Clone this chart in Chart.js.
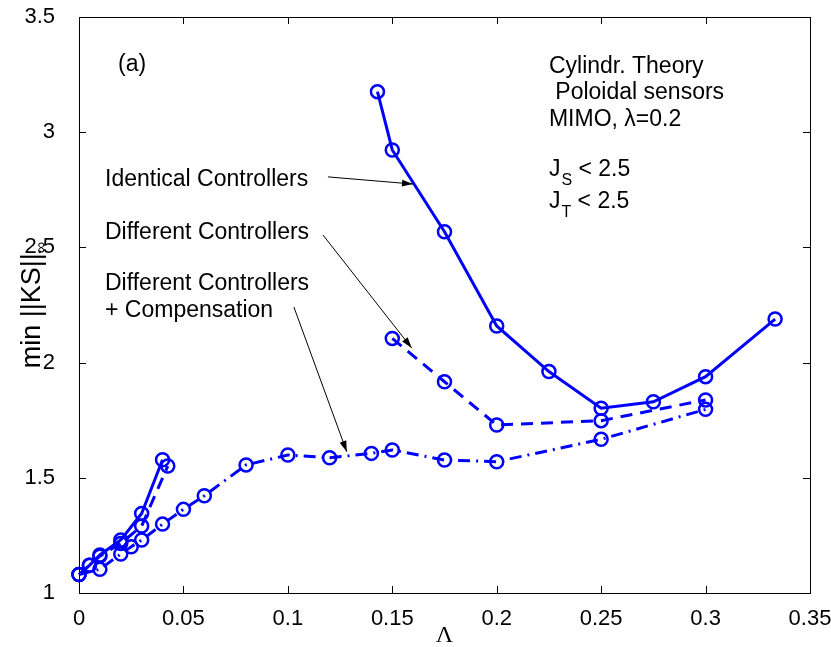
<!DOCTYPE html>
<html>
<head>
<meta charset="utf-8">
<script src="https://cdn.jsdelivr.net/npm/chart.js@4.4.0/dist/chart.umd.min.js"></script>
<style>
  body { margin: 0; background: #fff; }
  #wrap { width: 831px; height: 647px; }
</style>
</head>
<body>
<div id="wrap"><canvas id="ks" width="831" height="647"></canvas></div>
<script>
// min ||KS||inf against Lambda, three controller setups
var identicalLowX = [0, 0.005, 0.01, 0.02, 0.03, 0.04];
var identicalLowY = [1.08, 1.12, 1.165, 1.23, 1.345, 1.578];
var identicalHighX = [0.1429, 0.15, 0.175, 0.2, 0.225, 0.25, 0.275, 0.3, 0.3333];
var identicalHighY = [3.176, 2.923, 2.568, 2.159, 1.961, 1.802, 1.83, 1.939, 2.189];

var differentLowX = [0, 0.005, 0.01, 0.02, 0.03, 0.0425];
var differentLowY = [1.08, 1.12, 1.16, 1.215, 1.291, 1.551];
var differentHighX = [0.15, 0.175, 0.2, 0.25, 0.3];
var differentHighY = [2.105, 1.917, 1.729, 1.748, 1.838];

var compX = [0, 0.01, 0.02, 0.025, 0.03, 0.04, 0.05, 0.06, 0.08, 0.1, 0.12, 0.14, 0.15, 0.175, 0.2, 0.25, 0.3];
var compY = [1.08, 1.103, 1.169, 1.201, 1.23, 1.299, 1.363, 1.422, 1.556, 1.599, 1.587, 1.606, 1.621, 1.577, 1.57, 1.667, 1.797];

var xTicks = [0, 0.05, 0.1, 0.15, 0.2, 0.25, 0.3, 0.35];
var yTicks = [1, 1.5, 2, 2.5, 3, 3.5];

// labels and arrows, placed in data units
var notes = [
  { text: "(a)", x: 0.0187, y: 3.292 },
  { text: "Identical Controllers", x: 0.01245, y: 2.793 },
  { text: "Different Controllers", x: 0.01245, y: 2.563 },
  { text: "Different Controllers", x: 0.01245, y: 2.341 },
  { text: "+ Compensation", x: 0.01245, y: 2.224 },
  { text: "Cylindr. Theory", x: 0.225, y: 3.283 },
  { text: " Poloidal sensors", x: 0.225, y: 3.17 },
  { text: "MIMO, \u03bb=0.2", x: 0.225, y: 3.053 }
];
var limits = [
  { sub: "S", rest: " < 2.5", x: 0.225, y: 2.836 },
  { sub: "T", rest: " < 2.5", x: 0.225, y: 2.697 }
];
var arrows = [
  { from: [0.1192, 2.806], to: [0.1599, 2.775] },
  { from: [0.1168, 2.554], to: [0.1593, 2.063] },
  { from: [0.1029, 2.241], to: [0.1282, 1.613] }
];

var FONT = "'Liberation Sans', Arial, sans-serif";
var BLUE = "#0000ff";

function pts(xs, ys) {
  return xs.map(function (v, i) { return { x: v, y: ys[i] }; });
}

function series(xs, ys, dash) {
  return {
    data: pts(xs, ys),
    showLine: true,
    borderColor: BLUE,
    borderWidth: 3,
    borderDash: dash,
    pointStyle: "circle",
    pointRadius: 6.5,
    pointBorderWidth: 2.5,
    pointBorderColor: BLUE,
    pointBackgroundColor: "rgba(0,0,0,0)",
    clip: false
  };
}

var boxAndNotes = {
  id: "boxAndNotes",
  afterDraw: function (chart) {
    var ctx = chart.ctx, a = chart.chartArea;
    var sx = chart.scales.x, sy = chart.scales.y;
    ctx.save();

    // frame with inward ticks on all sides
    ctx.strokeStyle = "#000";
    ctx.lineWidth = 1;
    ctx.strokeRect(a.left + 0.5, a.top + 0.5, a.right - a.left, a.bottom - a.top);
    ctx.beginPath();
    xTicks.forEach(function (t) {
      var px = Math.round(sx.getPixelForValue(t)) + 0.5;
      ctx.moveTo(px, a.bottom); ctx.lineTo(px, a.bottom - 7);
      ctx.moveTo(px, a.top); ctx.lineTo(px, a.top + 7);
    });
    yTicks.forEach(function (t) {
      var py = Math.round(sy.getPixelForValue(t)) + 0.5;
      ctx.moveTo(a.left, py); ctx.lineTo(a.left + 7, py);
      ctx.moveTo(a.right, py); ctx.lineTo(a.right - 7, py);
    });
    ctx.stroke();

    // text notes
    ctx.fillStyle = "#000";
    ctx.textBaseline = "middle";
    ctx.textAlign = "left";
    ctx.font = "23px " + FONT;
    notes.forEach(function (n) {
      ctx.fillText(n.text, sx.getPixelForValue(n.x), sy.getPixelForValue(n.y));
    });
    limits.forEach(function (n) {
      var px = sx.getPixelForValue(n.x), py = sy.getPixelForValue(n.y);
      ctx.font = "23px " + FONT;
      ctx.fillText("J", px, py);
      var w = ctx.measureText("J").width;
      ctx.font = "16px " + FONT;
      ctx.fillText(n.sub, px + w + 1, py + 11);
      var ws = ctx.measureText(n.sub).width;
      ctx.font = "23px " + FONT;
      ctx.fillText(n.rest, px + w + ws + 1, py);
    });

    // arrows
    arrows.forEach(function (r) {
      var x0 = sx.getPixelForValue(r.from[0]), y0 = sy.getPixelForValue(r.from[1]);
      var x1 = sx.getPixelForValue(r.to[0]), y1 = sy.getPixelForValue(r.to[1]);
      var ang = Math.atan2(y1 - y0, x1 - x0);
      ctx.beginPath();
      ctx.moveTo(x0, y0);
      ctx.lineTo(x1, y1);
      ctx.stroke();
      ctx.beginPath();
      ctx.moveTo(x1, y1);
      ctx.lineTo(x1 - 11 * Math.cos(ang) + 3.5 * Math.sin(ang), y1 - 11 * Math.sin(ang) - 3.5 * Math.cos(ang));
      ctx.lineTo(x1 - 11 * Math.cos(ang) - 3.5 * Math.sin(ang), y1 - 11 * Math.sin(ang) + 3.5 * Math.cos(ang));
      ctx.closePath();
      ctx.fill();
    });

    // axis titles
    ctx.textAlign = "center";
    ctx.font = "24px 'Liberation Serif', 'Times New Roman', serif";
    ctx.fillText("\u039b", (a.left + a.right) / 2, 636);

    ctx.translate(40, (a.top + a.bottom) / 2);
    ctx.rotate(-Math.PI / 2);
    ctx.textBaseline = "alphabetic";
    ctx.textAlign = "left";
    ctx.font = "27px " + FONT;
    var main = "min ||KS||";
    var mw = ctx.measureText(main).width;
    ctx.font = "16px " + FONT;
    var iw = ctx.measureText("\u221e").width;
    var start = -(mw + iw) / 2;
    ctx.font = "27px " + FONT;
    ctx.fillText(main, start, 0);
    ctx.font = "16px " + FONT;
    ctx.fillText("\u221e", start + mw, 6);

    ctx.restore();
  }
};

var chart = new Chart(document.getElementById("ks").getContext("2d"), {
  type: "scatter",
  data: {
    datasets: [
      series(identicalLowX, identicalLowY, []),
      series(identicalHighX, identicalHighY, []),
      series(differentLowX, differentLowY, [12, 8]),
      series(differentHighX, differentHighY, [12, 8]),
      series(compX, compY, [12, 6, 2, 6])
    ]
  },
  options: {
    responsive: false,
    animation: false,
    devicePixelRatio: 1,
    layout: { padding: { top: 17, right: 21, left: 0, bottom: 0 } },
    plugins: { legend: { display: false }, tooltip: { enabled: false } },
    scales: {
      x: {
        type: "linear",
        min: 0,
        max: 0.35,
        afterFit: function (s) {
          s.height = 54;
          s.paddingLeft = 0;
          s.paddingRight = 0;
        },
        afterBuildTicks: function (s) { s.ticks = xTicks.map(function (v) { return { value: v }; }); },
        grid: { display: false },
        border: { display: false },
        ticks: {
          color: "#000",
          padding: 5,
          maxRotation: 0,
          autoSkip: false,
          font: { family: FONT, size: 22 },
          callback: function (v) { return String(+v.toFixed(2)); }
        }
      },
      y: {
        type: "linear",
        min: 1,
        max: 3.5,
        afterFit: function (s) {
          s.width = 79;
          s.paddingTop = 0;
          s.paddingBottom = 0;
        },
        afterBuildTicks: function (s) { s.ticks = yTicks.map(function (v) { return { value: v }; }); },
        grid: { display: false },
        border: { display: false },
        ticks: {
          color: "#000",
          padding: 16,
          font: { family: FONT, size: 22 },
          callback: function (v) { return String(+v.toFixed(2)); }
        }
      }
    }
  },
  plugins: [boxAndNotes]
});
</script>
</body>
</html>
